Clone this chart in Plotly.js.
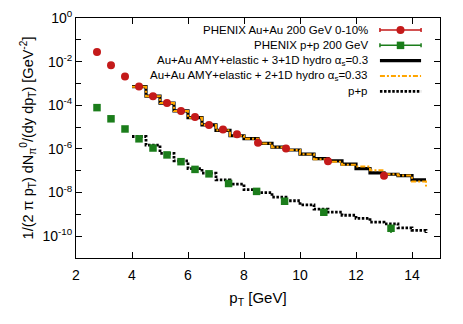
<!DOCTYPE html>
<html>
<head>
<meta charset="utf-8">
<script src="https://cdn.plot.ly/plotly-3.0.1.min.js"></script>
<style>
  body { margin: 0; background: #fff; }
  #chart { width: 463px; height: 324px; }
</style>
</head>
<body>
<div id="chart"></div>
<script>
// PHENIX data points
const pTAuAu = [2.75, 3.25, 3.75, 4.25, 4.75, 5.25, 5.75, 6.25, 6.75, 7.25, 7.75, 8.5, 9.5, 11.0, 13.0];
const yieldAuAu = [2.8e-2, 6.9e-3, 2.1e-3, 7.3e-4, 2.6e-4, 1.26e-4, 5.5e-5, 2.9e-5, 1.25e-5, 7.7e-6, 4.7e-6, 1.9e-6, 1.05e-6, 2.7e-7, 5.9e-8];

const pTpp = [2.75, 3.25, 3.75, 4.25, 4.75, 5.25, 5.75, 6.25, 6.75, 7.45, 8.45, 9.45, 10.85, 13.25];
const yieldpp = [7.8e-5, 2.4e-5, 8.2e-6, 2.9e-6, 1.1e-6, 5.3e-7, 2.6e-7, 1.15e-7, 7.2e-8, 2.6e-8, 1.13e-8, 4.0e-9, 1.25e-9, 2.3e-10];
const errpp = [0, 0, 0, 0, 0, 0, 0, 0, 0, 0, 0, 0, 0, 0.9e-10];

// calculations, one value per 0.5 GeV bin (left edge), last value closes the final bin
const binEdges = [4.0, 4.5, 5.0, 5.5, 6.0, 6.5, 7.0, 7.5, 8.0, 8.5, 9.0, 9.5, 10.0, 10.5, 11.0, 11.5, 12.0, 12.5, 13.0, 13.5, 14.0, 14.5];
const hydro31 = [7.1e-4, 2.6e-4, 1.26e-4, 5.5e-5, 2.7e-5, 1.26e-5, 7.1e-6, 4.0e-6, 2.95e-6, 1.78e-6, 1.2e-6, 8.9e-7, 5.75e-7, 3.6e-7, 2.8e-7, 2.0e-7, 1.26e-7, 7.9e-8, 6.9e-8, 6.0e-8, 3.8e-8, 3.8e-8];
const hydro21 = [7.1e-4, 2.6e-4, 1.26e-4, 5.5e-5, 2.7e-5, 1.26e-5, 7.1e-6, 4.0e-6, 2.95e-6, 1.78e-6, 1.2e-6, 8.9e-7, 5.75e-7, 3.4e-7, 2.6e-7, 1.86e-7, 1.58e-7, 1.05e-7, 6.9e-8, 6.0e-8, 3.2e-8, 1.9e-8];
const ppCalc = [3.7e-6, 1.5e-6, 6.3e-7, 2.8e-7, 1.26e-7, 7.8e-8, 3.8e-8, 2.45e-8, 1.35e-8, 1.0e-8, 6.2e-9, 4.2e-9, 2.75e-9, 1.74e-9, 1.26e-9, 9.1e-10, 6.6e-10, 4.4e-10, 3.7e-10, 2.4e-10, 1.86e-10, 1.4e-10];

const xTicks = [2, 4, 6, 8, 10, 12, 14];
const yTickVals = [1, 1e-2, 1e-4, 1e-6, 1e-8, 1e-10];
const yTickText = ['10<sup>0</sup>', '10<sup>-2</sup>', '10<sup>-4</sup>', '10<sup>-6</sup>', '10<sup>-8</sup>', '10<sup>-10</sup>'];
const yMinorVals = [1e-1, 1e-3, 1e-5, 1e-7, 1e-9];

const legendLabels = [
    'PHENIX Au+Au 200 GeV 0-10%',
    'PHENIX p+p 200 GeV',
    'Au+Au AMY+elastic + 3+1D hydro α<sub>s</sub>=0.3',
    'Au+Au AMY+elastic + 2+1D hydro α<sub>s</sub>=0.33',
    'p+p'
];

const red = '#c41a1a';
const green = '#1b7d1b';
const orange = '#ffa500';
const font = 'Liberation Sans, Arial, Helvetica, sans-serif';

const traceHydro31 = {
    x: binEdges, y: hydro31, type: 'scatter', mode: 'lines',
    line: { color: '#000', width: 3.2, shape: 'hv' }
};
const traceHydro21 = {
    x: binEdges, y: hydro21, type: 'scatter', mode: 'lines',
    line: { color: orange, width: 2, shape: 'hv', dash: '5px,2px,2px,2px' }
};
const tracePpCalc = {
    x: binEdges, y: ppCalc, type: 'scatter', mode: 'lines',
    line: { color: '#000', width: 2.8, shape: 'hv', dash: '2.5px,1.6px' }
};
const traceAuAu = {
    x: pTAuAu, y: yieldAuAu, type: 'scatter', mode: 'markers',
    marker: { color: red, size: 8, symbol: 'circle' }
};
const tracePp = {
    x: pTpp, y: yieldpp, type: 'scatter', mode: 'markers',
    marker: { color: green, size: 7.5, symbol: 'square' },
    error_y: { type: 'data', array: errpp, color: green, thickness: 1.5, width: 0 }
};

// hand-made legend (symbols on the right of the text, like gnuplot)
const rowY = i => 0.95 - i * 0.064;
const sampleX0 = 0.835, sampleX1 = 0.948, sampleMid = (sampleX0 + sampleX1) / 2;
const legendAxes = { xaxis: 'x2', yaxis: 'y2' };
const legendTraces = [
    Object.assign({
        x: [sampleMid], y: [rowY(0)], type: 'scatter', mode: 'markers',
        marker: { color: red, size: 8, symbol: 'circle' },
        error_x: { type: 'constant', value: sampleMid - sampleX0, color: red, thickness: 1.5, width: 2 }
    }, legendAxes),
    Object.assign({
        x: [sampleMid], y: [rowY(1)], type: 'scatter', mode: 'markers',
        marker: { color: green, size: 7.5, symbol: 'square' },
        error_x: { type: 'constant', value: sampleMid - sampleX0, color: green, thickness: 1.5, width: 2 }
    }, legendAxes),
    Object.assign({
        x: [sampleX0, sampleX1], y: [rowY(2), rowY(2)], type: 'scatter', mode: 'lines',
        line: traceHydro31.line
    }, legendAxes),
    Object.assign({
        x: [sampleX0, sampleX1], y: [rowY(3), rowY(3)], type: 'scatter', mode: 'lines',
        line: traceHydro21.line
    }, legendAxes),
    Object.assign({
        x: [sampleX0, sampleX1], y: [rowY(4), rowY(4)], type: 'scatter', mode: 'lines',
        line: tracePpCalc.line
    }, legendAxes)
];

const annotations = legendLabels.map((label, i) => ({
    text: label, xref: 'x2', yref: 'y2', x: 0.808, y: rowY(i),
    xanchor: 'right', yanchor: 'middle', showarrow: false,
    font: { family: font, size: 11.5, color: '#000' }
}));

const data = [traceHydro31, traceHydro21, tracePpCalc, traceAuAu, tracePp].concat(legendTraces);

const layout = {
    width: 463,
    height: 324,
    margin: { l: 76, r: 23, t: 18, b: 66 },
    paper_bgcolor: '#fff',
    plot_bgcolor: '#fff',
    showlegend: false,
    font: { family: font, size: 14, color: '#000' },
    xaxis: {
        range: [2, 15],
        tickvals: xTicks,
        ticks: 'inside', ticklen: 6, tickcolor: '#000',
        ticklabelstandoff: 4,
        showline: true, linecolor: '#000', linewidth: 1, mirror: 'allticks',
        showgrid: false, zeroline: false,
        tickfont: { size: 14 },
        title: { text: 'p<sub>T</sub> [GeV]', font: { size: 15 }, standoff: 10 }
    },
    yaxis: {
        type: 'log',
        range: [-11, 0],
        tickvals: yTickVals,
        ticktext: yTickText,
        ticks: 'inside', ticklen: 6, tickcolor: '#000',
        minor: { tickvals: yMinorVals, ticks: 'inside', ticklen: 5, tickcolor: '#000', showgrid: false },
        showline: true, linecolor: '#000', linewidth: 1, mirror: 'allticks',
        showgrid: false, zeroline: false,
        tickfont: { size: 14 },
        title: { text: '1/(2 π p<sub>T</sub>) dN<sub>π</sub><sup>0</sup>/(dy dp<sub>T</sub>) [GeV<sup>-2</sup>]', font: { size: 14.5 }, standoff: 5 }
    },
    xaxis2: { overlaying: 'x', anchor: 'y2', range: [0, 1], visible: false },
    yaxis2: { overlaying: 'y', anchor: 'x2', range: [0, 1], visible: false },
    annotations: annotations
};

Plotly.newPlot('chart', data, layout, { displayModeBar: false, staticPlot: true });
</script>
</body>
</html>
